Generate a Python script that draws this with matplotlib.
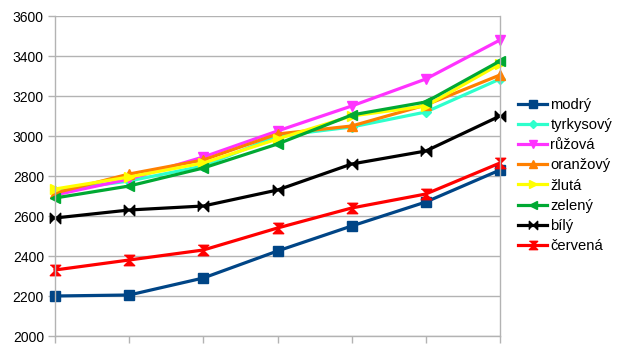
import matplotlib
matplotlib.use("Agg")
import matplotlib.pyplot as plt

plt.rcParams['font.family'] = ['Liberation Sans', 'DejaVu Sans']

x = [1, 2, 3, 4, 5, 6, 7]
series_names = ["modrý", "tyrkysový", "růžová", "oranžový", "žlutá", "zelený", "bílý", "červená"]
modry = [2200, 2205, 2290, 2425, 2550, 2670, 2830]
tyrkysovy = [2725, 2775, 2850, 3000, 3045, 3120, 3285]
ruzova = [2705, 2785, 2895, 3025, 3150, 3285, 3480]
oranzovy = [2715, 2810, 2880, 3010, 3050, 3155, 3305]
zluta = [2735, 2795, 2865, 2985, 3100, 3150, 3360]
zeleny = [2690, 2750, 2840, 2960, 3105, 3170, 3375]
bily = [2590, 2630, 2650, 2730, 2860, 2925, 3100]
cervena = [2330, 2380, 2430, 2540, 2640, 2710, 2865]
values = [modry, tyrkysovy, ruzova, oranzovy, zluta, zeleny, bily, cervena]
y_ticks = [2000, 2200, 2400, 2600, 2800, 3000, 3200, 3400, 3600]

colors = ["#004586", "#2effcc", "#ff33ff", "#ff8000", "#ffff00", "#00a933", "#000000", "#ff0000"]
bowtie = [(-1, -1), (-1, 1), (0, 0), (1, 1), (1, -1), (0, 0)]
hourglass = [(-1, 1), (1, 1), (0, 0), (1, -1), (-1, -1), (0, 0)]
markers = ["s", "D", "v", "^", ">", "<", bowtie, hourglass]
msizes = [7, 5, 7.5, 7.5, 7.5, 7.5, 7.5, 7.5]

fig = plt.figure(figsize=(6.24, 3.51), dpi=100)
ax = fig.add_axes([55/624, 15/351, 445/624, 320/351])

for name, vals, c, m, ms in zip(series_names, values, colors, markers, msizes):
    ax.plot(x, vals, color=c, marker=m, markersize=ms, linewidth=2.3,
            markeredgecolor=c, markerfacecolor=c, label=name, clip_on=False)

ax.set_xlim(1, 7)
ax.set_ylim(2000, 3600)
ax.set_yticks(y_ticks)
ax.set_xticks(x)
ax.set_xticklabels([])
ax.grid(axis='y', color='#b3b3b3', linewidth=1)
ax.set_axisbelow(True)
for s in ['top']:
    ax.spines[s].set_visible(False)
for s in ['left', 'right', 'bottom']:
    ax.spines[s].set_color('#b3b3b3')
    ax.spines[s].set_linewidth(1)
ax.tick_params(axis='both', colors='#b3b3b3', length=5, width=1, labelsize=10, labelcolor='black')
ax.tick_params(axis='y', pad=3)

fig.legend(loc='center left', bbox_to_anchor=(518/624, 0.5), frameon=False,
           fontsize=10.6, handlelength=2.0, handletextpad=0.2, labelspacing=0.42,
           borderaxespad=0, borderpad=0, markerscale=0.8)

fig.savefig("out.png", dpi=100)
